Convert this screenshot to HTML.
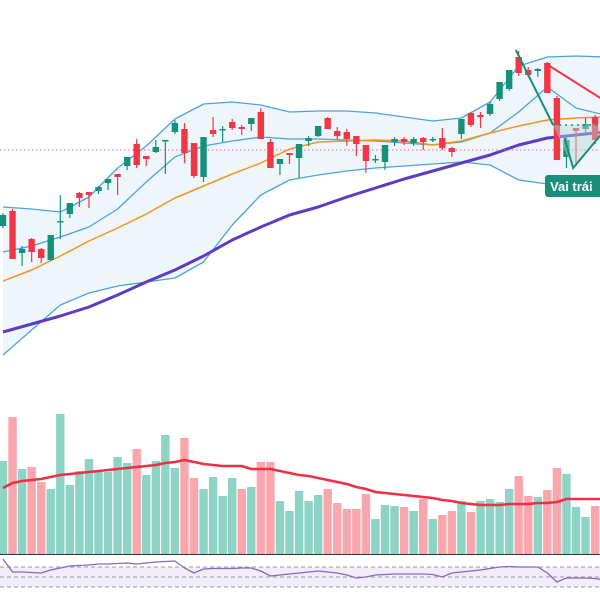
<!DOCTYPE html>
<html><head><meta charset="utf-8"><style>
html,body{margin:0;padding:0;background:#fff;}
svg{display:block;font-family:"Liberation Sans",sans-serif;}
</style></head><body>
<svg id="chart" width="600" height="600" viewBox="0 0 600 600"></svg>
<script>
// ---- data ----
const opens = [174,189,147,161,151,140,178,186,207,208,209,217,226,234,256,244,248,259,268,271,257,223,270,270,278,273,276,288,258,236,247,242,259,264,282,269,268,264,255,240,238,258,261,257,262,260,262,252,266,287,285,286,301,311,343,330,329,337,302,243,272,271,283];
const highs = [187,191,154,162,152,165,205,197,208,208,214,221,226,243,261,244,260,260,280,277,257,263,283,274,281,275,282,292,261,241,247,256,264,274,283,273,271,264,255,245,255,263,263,263,263,263,272,253,281,288,288,298,318,330,349,333,332,338,304,263,272,282,285];
const lows = [172,141,134,138,137,139,161,182,193,192,206,210,205,230,232,234,247,226,266,237,222,218,263,258,270,265,269,261,232,225,236,222,254,263,271,261,254,244,227,237,230,254,255,254,250,258,250,243,261,273,272,284,299,309,324,323,323,307,240,232,237,267,256];
const closes = [185,141,151,148,142,165,179,197,202,205,213,221,223,243,235,241,253,260,277,247,224,263,266,271,272,271,282,261,232,241,245,256,262,274,271,264,261,256,239,241,255,261,258,261,258,261,252,248,281,275,283,296,318,330,327,325,331,307,240,260,269,276,260];
const volumes = [93,137,85,87,72,65,140,69,83,95,82,82,97,91,105,79,93,119,86,116,76,65,77,58,76,65,67,92,92,53,43,63,53,59,65,51,45,45,60,35,49,48,47,43,55,35,39,43,53,42,53,55,52,65,78,58,57,64,86,80,47,37,48,47];
const volumeMA = [66,71,73,74,75,77,79,80,81,82,83,84,85,86,87,88,89,91,92,94,92,90,89,88,88,88,85,85,85,83,81,79,78,76,74,72,70,67,65,62,61,60,59,58,57,56,54,53,51,50,49,49,49,50,50,50,51,51,52,55,55,55,55,55];
const rsi = [86,60,60,59,58,64,68,72,73,74,76,76,77,78,76,78,80,81,82,68,58,66,67,67,67,68,68,62,52,54,56,58,60,62,60,58,54,48,50,54,55,56,56,56,56,55,50,58,60,62,64,67,70,71,70,70,70,58,40,48,48,48,47,44];
// band lines sampled every 3 bars
const bandStep = 3;
const bbUpper = [193,191,188,203,232,254,281,296,298,295,288,289,289,287,283,279,282,298,334,343,344,343];
const bbMiddle = [148,154,163,173,191,218,243,254,259,263,261,261,260,259,257,255,258,267,288,313,292,285];
const bbLower = [45,70,95,107,114,118,122,138,175,205,220,225,229,232,234,236,238,235,220,216,217,218];
const maShort = [119,130,144,159,172,186,202,214,226,237,251,258,259,260,259,255,259,267,274,280,282,283];
const maLong = [68,76,84,93,105,118,130,144,160,173,185,193,203,212,221,229,237,245,255,262,265,268];
const refLevel = 250;
const patternGreen1 = [[53.7,350],[57.6,275]];
const patternGreen2 = [[58.8,262],[59.7,232],[63.2,272]];
const patternRed = [[56.9,336],[63.2,298]];
const patternFill = [[57.6,275],[59.7,232],[63.2,272],[63.2,276]];
const neckline = 275;

// ---- scales ----
const xS = i => 3 + i*9.55;
const yS = v => 400 - v;
const volY = v => 554 - v;
const rsiY = r => 577 - (r-50)*0.5;

const svg = document.getElementById('chart');
const NS = 'http://www.w3.org/2000/svg';
function mk(tag, attrs, parent){const e=document.createElementNS(NS,tag);for(const k in attrs)e.setAttribute(k,attrs[k]);(parent||svg).appendChild(e);return e;}
const GREEN='#17907a', RED='#f23645';

// band fill
const bandPts = bbUpper.map((v,k)=>xS(k*bandStep)+','+yS(v)).concat(bbLower.map((v,k)=>xS(k*bandStep)+','+yS(v)).reverse());
const fill = mk('polygon',{points:bandPts.join(' '),fill:'#eef6fc'});



function line(arr, name, color, w){
  const p = mk('polyline',{points:arr.map((v,k)=>xS(k*bandStep)+','+yS(v)).join(' '),fill:'none',stroke:color,'stroke-width':w,'stroke-linejoin':'round'});
  
  
}
line(bbUpper,'bollinger-upper','#4ba3e0',1.3);
line(bbLower,'bollinger-lower','#4ba3e0',1.3);
line(bbMiddle,'bollinger-middle','#4ba3e0',1.3);
line(maShort,'ma-short-line','#f7931e',1.5);
line(maLong,'ma-long-line','#5b3cc4',3);

// ref level
const ref = mk('line',{x1:0,x2:600,y1:yS(refLevel),y2:yS(refLevel),stroke:'#f06a8a','stroke-width':1,'stroke-dasharray':'1.5,2.5'});



// candles
opens.forEach((o,i)=>{
  const c=closes[i], up=c>=o, col=up?GREEN:RED, x=xS(i);
  const g=mk('g',{});
  
  
  mk('line',{x1:x,x2:x,y1:yS(highs[i]),y2:yS(lows[i]),stroke:col,'stroke-width':1.2},g);
  const top=yS(Math.max(o,c)), h=Math.max(1.5,Math.abs(o-c));
  mk('rect',{x:x-3.2,y:top,width:6.4,height:h,fill:col},g);
});

// pattern
const pf = mk('polygon',{points:patternFill.map(p=>xS(p[0])+','+yS(p[1])).join(' '),fill:'#b9d9d4','fill-opacity':0.45});


const nl = mk('line',{x1:xS(57.6),x2:600,y1:yS(neckline),y2:yS(neckline),stroke:GREEN,'stroke-width':1.5,'stroke-dasharray':'2,4'});


function pline(arr,name,col){
  const p=mk('polyline',{points:arr.map(q=>xS(q[0])+','+yS(q[1])).join(' '),fill:'none',stroke:col,'stroke-width':2});
  
  
}
pline(patternGreen1,'pattern-line-down',GREEN);
pline(patternGreen2,'pattern-line-left-shoulder',GREEN);
pline(patternRed,'pattern-line-red',RED);

// label
const lg = mk('g',{});


mk('rect',{x:545,y:175,width:70,height:22,rx:3,fill:'#1a8f7a'},lg);
const lt = mk('text',{x:550,y:191,fill:'#fff','font-size':13,'font-weight':'bold'},lg);
lt.textContent='Vai trái';

// volume
volumes.forEach((v,i)=>{
  const up = i===0 ? true : closes[i]>=closes[i-1];
  const r = mk('rect',{x:xS(i)-4.2,y:volY(v),width:8.4,height:v,fill:up?'#8dd4c4':'#f9a6ad'});
  
  
});
const vm = mk('polyline',{points:volumeMA.map((v,i)=>xS(i)+','+volY(v)).join(' '),fill:'none',stroke:'#f02e46','stroke-width':2.5,'stroke-linejoin':'round'});


const base = mk('line',{x1:0,x2:600,y1:554.5,y2:554.5,stroke:'#333','stroke-width':1});



// rsi
const rb = mk('rect',{x:0,y:rsiY(70),width:600,height:rsiY(30)-rsiY(70),fill:'#f1eefa'});


[70,50,30].forEach(l=>{
  const d=mk('line',{x1:0,x2:600,y1:rsiY(l),y2:rsiY(l),stroke:'#999','stroke-width':1,'stroke-dasharray':'4,3'});
  
  
});
const rl = mk('polyline',{points:rsi.map((r,i)=>xS(i)+','+rsiY(r)).join(' '),fill:'none',stroke:'#7e6bc2','stroke-width':1.3});


</script>
</body></html>
